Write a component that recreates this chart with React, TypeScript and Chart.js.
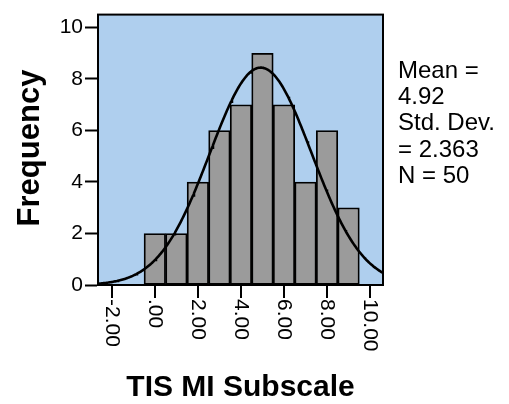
import { useEffect, useRef } from "react";
import { Chart, registerables } from "chart.js";

Chart.register(...registerables);

// Histogram bins (centre of each unit-wide bin) and their counts
const BIN_CENTERS = [0, 1, 2, 3, 4, 5, 6, 7, 8, 9];
const FREQUENCIES = [2, 2, 4, 6, 7, 9, 7, 4, 6, 3];

// Summary statistics used for the fitted normal curve
const MEAN = 4.92;
const STD_DEV = 2.363;
const N = 50;
const BIN_WIDTH = 1;

// Axes
const X_MIN = -2.64;
const X_MAX = 10.6;
const Y_MAX = 10.5;
const X_TICKS = [-2, 0, 2, 4, 6, 8, 10];
const X_TICK_LABELS = ["-2.00", ".00", "2.00", "4.00", "6.00", "8.00", "10.00"];
const Y_TICKS = [0, 2, 4, 6, 8, 10];

const X_TITLE = "TIS MI Subscale";
const Y_TITLE = "Frequency";
const STATS_LINES = ["Mean =", "4.92", "Std. Dev.", "= 2.363", "N = 50"];

const FONT = "'Liberation Sans', Arial, Helvetica, sans-serif";

// Normal density scaled to counts per bin
function normalCurve(steps: number) {
  const pts: { x: number; y: number }[] = [];
  const k = (N * BIN_WIDTH) / (STD_DEV * Math.sqrt(2 * Math.PI));
  for (let i = 0; i <= steps; i++) {
    const x = X_MIN + ((X_MAX - X_MIN) * i) / steps;
    const z = (x - MEAN) / STD_DEV;
    pts.push({ x, y: k * Math.exp(-0.5 * z * z) });
  }
  return pts;
}

const decorations = {
  id: "decorations",
  beforeDraw(chart: any) {
    const { ctx, chartArea: a } = chart;
    ctx.save();
    ctx.fillStyle = "#AFCFEE";
    ctx.fillRect(a.left, a.top, a.right - a.left, a.bottom - a.top);
    ctx.restore();
  },
  afterDraw(chart: any) {
    const { ctx, chartArea: a } = chart;
    const xs = chart.scales.x;
    ctx.save();

    // plot frame
    ctx.strokeStyle = "#000";
    ctx.lineWidth = 2;
    ctx.strokeRect(a.left, a.top, a.right - a.left, a.bottom - a.top);

    // x tick marks and vertical tick labels
    ctx.fillStyle = "#000";
    ctx.font = `21px ${FONT}`;
    X_TICKS.forEach((v, i) => {
      const px = Math.round(xs.getPixelForValue(v));
      ctx.beginPath();
      ctx.moveTo(px, a.bottom);
      ctx.lineTo(px, a.bottom + 13);
      ctx.stroke();
      ctx.save();
      ctx.translate(px, a.bottom + 14);
      ctx.rotate(Math.PI / 2);
      ctx.textAlign = "left";
      ctx.textBaseline = "middle";
      ctx.fillText(X_TICK_LABELS[i], 0, 0);
      ctx.restore();
    });

    // axis titles
    ctx.font = `bold 30px ${FONT}`;
    ctx.textAlign = "center";
    ctx.textBaseline = "alphabetic";
    ctx.fillText(X_TITLE, 240.5, 396);

    ctx.save();
    ctx.translate(39, 148);
    ctx.rotate(-Math.PI / 2);
    ctx.font = `bold 31px ${FONT}`;
    ctx.textAlign = "center";
    ctx.textBaseline = "alphabetic";
    ctx.fillText(Y_TITLE, 0, 0);
    ctx.restore();

    // statistics box
    ctx.font = `24px ${FONT}`;
    ctx.textAlign = "left";
    STATS_LINES.forEach((line, i) => {
      ctx.fillText(line, 398, 78 + i * 26.2);
    });

    ctx.restore();
  },
};

export default function App() {
  const canvasRef = useRef<HTMLCanvasElement | null>(null);

  useEffect(() => {
    const canvas = canvasRef.current;
    if (!canvas) return;
    const chart = new Chart(canvas, {
      type: "bar",
      data: {
        datasets: [
          {
            type: "line",
            data: normalCurve(300),
            borderColor: "#000",
            borderWidth: 2.6,
            pointRadius: 0,
            tension: 0,
            fill: false,
            order: 0,
          } as any,
          {
            type: "bar",
            data: BIN_CENTERS.map((c, i) => ({ x: c, y: FREQUENCIES[i] })),
            backgroundColor: "#9B9B9B",
            borderColor: "#000",
            borderWidth: 1.8,
            borderSkipped: false,
            barPercentage: 1,
            categoryPercentage: 1,
            order: 1,
          } as any,
        ],
      },
      options: {
        responsive: false,
        animation: false,
        devicePixelRatio: 1,
        events: [],
        layout: { padding: { left: 0, top: 12, right: 126, bottom: 119 } },
        plugins: { legend: { display: false }, tooltip: { enabled: false } },
        scales: {
          x: {
            type: "linear",
            display: false,
            min: X_MIN,
            max: X_MAX,
            offset: false,
          },
          y: {
            type: "linear",
            min: 0,
            max: Y_MAX,
            afterBuildTicks: (s: any) => {
              s.ticks = Y_TICKS.map((v) => ({ value: v }));
            },
            afterFit: (s: any) => {
              s.width = 98;
            },
            grid: {
              drawOnChartArea: false,
              drawTicks: true,
              tickLength: 13,
              tickWidth: 2,
              tickColor: "#000",
            },
            border: { display: true, color: "#000", width: 2 },
            ticks: {
              color: "#000",
              padding: 2,
              font: { size: 21, family: FONT },
              callback: (v: any) => String(v),
            },
          },
        },
      } as any,
      plugins: [decorations],
    });
    return () => chart.destroy();
  }, []);

  return (
    <div style={{ position: "fixed", left: 0, top: 0, width: 509, height: 404, background: "#fff" }}>
      <canvas ref={canvasRef} width={509} height={404} style={{ display: "block", width: 509, height: 404 }} />
    </div>
  );
}
